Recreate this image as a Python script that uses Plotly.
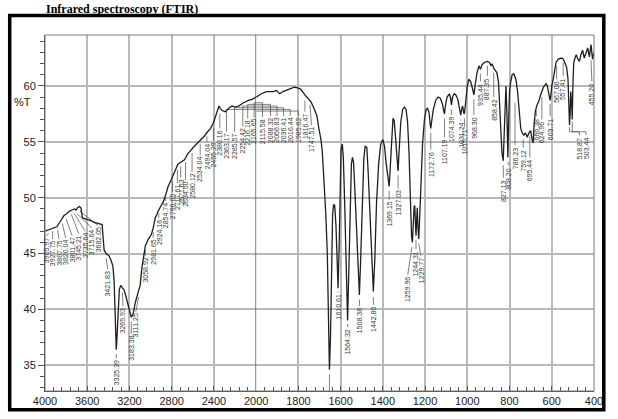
import plotly.graph_objects as go

# ---------------- spectrum data (wavenumber cm-1, %T) ----------------
wn_hi = [4000, 3975, 3953, 3920, 3888, 3860, 3841, 3820, 3804, 3785, 3767, 3745, 3720, 3705, 3692,
         3674, 3660, 3655, 3646, 3620, 3580, 3530, 3487, 3459, 3450, 3440, 3420, 3394, 3375, 3357,
         3345, 3338, 3330, 3325, 3318, 3310, 3296, 3284, 3276, 3266, 3254, 3240, 3226, 3210, 3193,
         3183, 3170, 3161, 3145, 3133, 3114, 3098, 3083, 3068, 3049, 3021, 2993, 2975, 2956, 2940,
         2928, 2900, 2881, 2862, 2834, 2810, 2788, 2765, 2741, 2710, 2679, 2650, 2617, 2585, 2555,
         2520, 2492, 2460, 2431, 2405, 2384, 2365, 2352, 2340, 2322, 2291, 2260, 2228, 2200, 2166,
         2120, 2073, 2040, 2000]
t_hi = [47.0, 47.1, 47.2, 47.3, 47.4, 47.8, 48.1, 48.4, 48.5, 48.7, 48.8, 48.9, 49.0, 48.9, 49.1,
        49.2, 49.1, 48.8, 48.2, 48.1, 48.0, 47.8, 47.7, 47.6, 46.5, 45.3, 45.0, 44.8, 44.4, 43.9,
        42.5, 39.6, 37.0, 36.4, 37.5, 39.6, 41.8, 42.1, 42.1, 41.9, 41.8, 41.4, 40.9, 40.3, 39.6,
        39.3, 39.5, 39.8, 40.6, 41.0, 41.5, 42.2, 43.7, 44.8, 45.7, 46.3, 46.7, 47.3, 48.2, 48.5,
        48.8, 49.3, 49.6, 50.1, 51.0, 51.5, 52.0, 52.5, 53.0, 53.2, 53.4, 53.9, 54.3, 54.6, 54.9,
        55.2, 55.5, 55.9, 56.2, 56.7, 57.3, 57.9, 58.2, 58.0, 57.8, 57.7, 58.0, 58.2, 58.1, 58.2,
        58.5, 58.7, 58.8, 59.0]

wn_lo = [2000, 1975, 1951, 1920, 1904, 1889, 1873, 1842, 1819, 1800, 1788, 1765, 1741, 1726, 1712,
         1703, 1694, 1687, 1679, 1670, 1663, 1658, 1653, 1648, 1643, 1638, 1633, 1628, 1622, 1616,
         1612, 1607, 1602, 1598, 1592, 1587, 1580, 1572, 1567, 1561, 1555, 1549, 1544, 1539, 1532,
         1524, 1516, 1511, 1505, 1498, 1490, 1484, 1476, 1470, 1462, 1453, 1445, 1438, 1430, 1420,
         1410, 1400, 1392, 1384, 1376, 1370, 1364, 1358, 1352, 1346, 1340, 1334, 1328, 1322, 1315,
         1306, 1298, 1290, 1283, 1276, 1270, 1264, 1260, 1256, 1252, 1249, 1246, 1243, 1240, 1237,
         1234, 1230, 1226, 1220, 1212, 1203, 1195, 1188, 1181, 1176, 1173, 1169, 1162, 1150, 1138,
         1128, 1118, 1112, 1108, 1104, 1096, 1085, 1079, 1075, 1070, 1062, 1054, 1045, 1036, 1031,
         1026, 1022, 1017, 1014, 1008, 1000, 992, 984, 976, 969, 962, 954, 945, 938, 930,
         920, 906, 895, 887, 883, 875, 866, 860, 852, 845, 836, 830, 826, 821, 817,
         813, 808, 804, 800, 795, 788, 780, 770, 762, 754, 747, 740, 732, 724, 716,
         708, 700, 693, 688, 684, 678, 670, 662, 651, 639, 627, 621, 616, 612, 608,
         604, 600, 593, 586, 580, 569, 554, 545, 538, 530, 523, 519, 516, 513, 510,
         506, 503, 500, 496, 490, 484, 476, 469, 462, 454, 446, 438, 430, 422, 414,
         407, 400]
t_lo = [59.0, 59.3, 59.5, 59.5, 59.6, 59.3, 59.5, 59.7, 59.9, 59.8, 59.7, 59.1, 58.6, 58.0, 57.3,
        56.2, 55.3, 54.2, 51.8, 48.5, 45.0, 39.5, 34.6, 37.5, 44.0, 48.5, 49.4, 49.3, 47.5, 43.0,
        41.9, 45.5, 51.0, 54.3, 54.8, 53.5, 49.0, 43.0, 39.0, 43.5, 49.5, 53.0, 53.6, 53.2, 50.5,
        46.5, 42.5, 41.3, 44.5, 49.5, 53.5, 54.6, 54.5, 52.5, 48.5, 44.0, 41.6, 44.5, 49.5, 53.0,
        54.8, 55.2, 54.6, 53.0, 51.5, 51.0, 53.0, 55.8, 57.1, 56.9, 55.5, 53.5, 52.4, 54.5, 56.8,
        57.9, 58.1, 57.9, 56.8, 54.0, 50.0, 46.5, 46.0, 47.8, 49.2, 49.3, 47.5, 46.6, 48.0, 49.1,
        47.5, 46.3, 48.0, 51.5, 54.8, 57.0, 57.9, 58.0, 57.6, 56.6, 56.2, 56.8, 57.8, 58.7, 59.0,
        58.9, 58.4, 57.8, 57.5, 58.2, 59.0, 59.3, 58.9, 58.3, 59.0, 59.3, 59.2, 58.8, 57.9, 57.4,
        58.0, 58.2, 57.6, 57.5, 58.5, 60.0, 60.6, 60.4, 59.8, 59.2, 60.2, 61.2, 61.8, 61.5, 61.9,
        62.1, 62.2, 62.1, 61.8, 62.0, 61.6, 61.4, 61.2, 60.3, 57.5, 54.0, 53.3, 55.5, 59.5, 60.0,
        58.0, 53.6, 57.0, 59.5, 60.3, 61.0, 61.1, 60.6, 59.5, 57.5, 56.2, 55.8, 55.6, 55.8, 55.4,
        55.8, 56.0, 55.2, 54.9, 56.5, 57.7, 58.3, 58.6, 59.3, 59.9, 60.2, 60.0, 59.5, 59.0, 58.7,
        59.2, 60.0, 60.6, 61.4, 62.1, 62.4, 62.5, 62.4, 62.1, 61.7, 60.6, 59.0, 56.5, 57.5, 59.5,
        58.5, 57.0, 60.0, 62.1, 62.5, 62.8, 62.4, 62.2, 62.8, 63.2, 62.5, 63.0, 63.4, 62.6, 63.7,
        62.4, 63.0]

# ---------------- peak labels ----------------
# left part (4000-2000): text, label x, label top, leader tip (x, y), leader bend level (None = straight)
lab_hi_text = ["3965.97", "3927.75", "3867.75", "3820.04", "3801.47", "3745.21", "3735.64", "3715.64",
               "3682.05", "3421.83", "3325.39", "3265.93", "3183.38", "3111.25", "3058.92", "2981.65",
               "2924.16", "2854.74", "2796.65", "2717.61", "2671.63", "2634.50", "2580.12", "2534.04",
               "2494.04", "2455.29", "2380.16", "2363.17", "2285.57", "2254.42", "2216.18", "2165.65"]
lab_hi_wn = [3991, 3928, 3867, 3805, 3743, 3681, 3619, 3557, 3496, 3405, 3325, 3262, 3183, 3140, 3050,
             2975, 2922, 2857, 2792, 2746, 2715, 2669, 2607, 2530, 2467, 2405, 2344, 2281, 2204, 2127,
             2080, 2019]
lab_hi_top = [46.6, 46.3, 46.3, 46.4, 46.6, 46.8, 47.0, 47.3, 47.5, 43.6, 35.6, 40.3, 37.8, 39.8, 44.8,
              46.4, 48.2, 49.7, 50.5, 51.3, 51.8, 51.6, 52.3, 53.8, 55.0, 55.1, 56.2, 55.9, 55.9, 56.4,
              57.1, 57.2]
lab_hi_tip_wn = [3965, 3928, 3880, 3835, 3800, 3750, 3725, 3700, 3670, 3421, 3325, 3266, 3183, 3114, 3050,
                 2975, 2922, 2857, 2792, 2746, 2715, 2669, 2607, 2530, 2467, 2405, 2344, 2000, 2000, 2000,
                 2000, 2000]
lab_hi_tip_t = [46.8, 47.0, 47.1, 47.7, 48.1, 48.5, 48.6, 48.6, 48.8, 44.6, 36.0, 41.5, 38.9, 41.1, 45.3,
                46.9, 48.6, 50.0, 51.5, 52.5, 52.8, 53.2, 54.0, 54.8, 55.5, 56.3, 57.5, 57.9, 58.05, 58.2,
                58.35, 58.5]
lab_hi_bend = [None] * 27 + [57.9, 58.05, 58.2, 58.35, 58.5]

# right part (2000-400)
lab_lo_text = ["2115.58", "2088.32", "2066.83", "2036.41", "2016.44", "1985.02", "1816.47", "1747.51",
               "1610.61", "1564.32", "1508.38", "1442.80", "1369.15", "1327.03", "1259.96", "1244.31",
               "1229.77", "1172.76", "1107.19", "1074.39", "1031.24", "1015.71", "968.30", "935.44",
               "887.35", "858.42", "827.13", "808.20", "786.23", "759.12", "695.44", "666.38",
               "624.96", "603.71", "567.06", "557.41", "518.87", "503.44", "455.20"]
lab_lo_wn = [1970, 1932, 1901, 1870, 1839, 1800, 1769, 1738, 1611, 1566, 1510, 1444, 1370, 1328, 1282,
             1243, 1220, 1173, 1108, 1075, 1031, 1012, 969, 938, 905, 875, 829, 805, 774, 735,
             704, 673, 647, 608, 577, 546, 469, 438, 410]
lab_lo_top = [57.2, 57.3, 57.3, 57.3, 57.3, 57.3, 57.7, 56.5, 41.5, 38.4, 40.3, 40.4, 49.8, 50.8, 43.1,
              45.4, 44.8, 54.3, 55.4, 57.4, 56.9, 56.3, 57.4, 60.4, 60.9, 59.0, 51.8, 52.9, 54.7, 54.5,
              53.6, 57.3, 57.0, 57.3, 60.6, 60.9, 55.6, 55.6, 60.4]
lab_lo_tip_wn = [2000, 2000, 2000, 2000, 2000, 2000, 1769, 1745, 1611, 1567, 1511, 1445, 1370, 1328, 1262,
                 1243, 1230, 1173, 1108, 1075, 1031, 1014, 969, 938, 905, 875, 830, 808, 774, 735,
                 704, 673, 647, 608, 577, 546, 516, 503, 414]
lab_lo_tip_t = [58.5, 58.35, 58.2, 58.05, 57.9, 57.75, 58.7, 58.3, 41.6, 38.7, 40.9, 41.1, 50.6, 52.0, 45.6,
                46.2, 45.9, 55.8, 57.1, 57.9, 57.0, 57.1, 58.8, 61.1, 61.8, 61.2, 52.9, 53.2, 58.5, 55.2,
                55.5, 57.8, 59.0, 58.4, 61.8, 62.1, 56.3, 56.8, 62.3]
lab_lo_bend = [58.5, 58.35, 58.2, 58.05, 57.9, 57.75] + [None] * 30 + [55.9, 55.9, None]

x_hi_ticks = [4000, 3600, 3200, 2800, 2400, 2000]
x_lo_ticks = [1800, 1600, 1400, 1200, 1000, 800, 600, 400]
y_ticks = [35, 40, 45, 50, 55, 60]

# ---------------- figure ----------------
W, H = 618, 419
L, R, T, B = 45, 13, 35, 21
PW, PH = W - L - R, H - T - B


def px(xp):
    return (xp - L) / PW


def py(yp):
    return (H - B - yp) / PH


LINE = "#1e1e1e"
GRID = "#b9b9b9"
LABC = "#3a3a3a"
fig = go.Figure()


def leaders(tip_x, tip_y, lab_x, lab_y, bend):
    xx, yy = [], []
    for a, b, c, d, k in zip(tip_x, tip_y, lab_x, lab_y, bend):
        if k is None:
            xx += [a, c, None]
            yy += [b, d, None]
        else:
            xx += [a, a, c, c, None]
            yy += [b, k, k, d, None]
    return xx, yy


lx, ly = leaders(lab_hi_tip_wn, lab_hi_tip_t, lab_hi_wn, lab_hi_top, lab_hi_bend)
fig.add_trace(go.Scatter(x=lx, y=ly, mode="lines", line=dict(color="#4a4a4a", width=0.7),
                         hoverinfo="skip", xaxis="x", yaxis="y"))
lx, ly = leaders(lab_lo_tip_wn + [1653], lab_lo_tip_t + [34.2], lab_lo_wn + [1653],
                 lab_lo_top + [32.0], lab_lo_bend + [None])
fig.add_trace(go.Scatter(x=lx, y=ly, mode="lines", line=dict(color="#4a4a4a", width=0.7),
                         hoverinfo="skip", xaxis="x2", yaxis="y"))

fig.add_trace(go.Scatter(x=wn_hi, y=t_hi, mode="lines", line=dict(color=LINE, width=1.3),
                         xaxis="x", yaxis="y"))
fig.add_trace(go.Scatter(x=wn_lo, y=t_lo, mode="lines", line=dict(color=LINE, width=1.3),
                         xaxis="x2", yaxis="y"))

labfont = dict(size=7, color=LABC, family="Liberation Sans, Arial")
annotations = []
for t, x, y in zip(lab_hi_text, lab_hi_wn, lab_hi_top):
    annotations.append(dict(x=x, y=y, xref="x", yref="y", text=t, showarrow=False, textangle=-90,
                            xanchor="center", yanchor="top", font=labfont))
for t, x, y in zip(lab_lo_text, lab_lo_wn, lab_lo_top):
    annotations.append(dict(x=x, y=y, xref="x2", yref="y", text=t, showarrow=False, textangle=-90,
                            xanchor="center", yanchor="top", font=labfont))
annotations.append(dict(x=px(22), y=py(103), xref="paper", yref="paper", text="%T", showarrow=False,
                        xanchor="center", yanchor="middle",
                        font=dict(size=11, color="#222", family="Liberation Sans, Arial")))
annotations.append(dict(x=px(45), y=py(0), xref="paper", yref="paper",
                        text="<b>Infrared spectroscopy (FTIR)</b>", showarrow=False,
                        xanchor="left", yanchor="top", borderpad=0,
                        font=dict(size=12, color="#000", family="Liberation Serif, Times New Roman")))

shapes = [
    dict(type="rect", xref="paper", yref="paper", x0=0, x1=1, y0=0, y1=1,
         line=dict(color="#7a7a7a", width=1)),
    dict(type="line", xref="x", yref="paper", x0=2000, x1=2000, y0=0, y1=1,
         line=dict(color="#555", width=1.5)),
    dict(type="rect", xref="paper", yref="paper", x0=px(9), x1=px(615), y0=py(417), y1=py(15),
         line=dict(color="#000", width=3.5)),
]

tickfont = dict(size=11, color="#222", family="Liberation Sans, Arial")
fig.update_layout(
    width=W, height=H, margin=dict(l=L, r=R, t=T, b=B),
    paper_bgcolor="white", plot_bgcolor="white", showlegend=False,
    annotations=annotations, shapes=shapes,
    xaxis=dict(domain=[0, 5 / 13], range=[4000, 2000], tickmode="array", tickvals=x_hi_ticks,
               ticktext=[str(v) for v in x_hi_ticks], showgrid=True, gridcolor=GRID, gridwidth=1.5,
               ticks="inside", ticklen=5, tickcolor="#555", showline=True, linecolor="#444",
               zeroline=False, tickfont=tickfont, ticklabelstandoff=0,
               minor=dict(dtick=80, tick0=4000, ticks="inside", ticklen=4, tickcolor="#555", showgrid=False)),
    xaxis2=dict(domain=[5 / 13, 1], range=[2000, 400], tickmode="array", tickvals=x_lo_ticks,
                ticktext=[str(v) for v in x_lo_ticks], showgrid=True, gridcolor=GRID, gridwidth=1.5,
                ticks="inside", ticklen=5, tickcolor="#555", showline=True, linecolor="#444",
                zeroline=False, tickfont=tickfont, anchor="y", ticklabelstandoff=0,
                minor=dict(dtick=40, tick0=2000, ticks="inside", ticklen=4, tickcolor="#555", showgrid=False)),
    yaxis=dict(range=[32.7, 64.56], tickmode="array", tickvals=y_ticks,
               ticktext=[str(v) for v in y_ticks], showgrid=True, gridcolor=GRID, gridwidth=1.5,
               ticks="outside", ticklen=6, tickcolor="#555", showline=True, linecolor="#444",
               zeroline=False, tickfont=tickfont,
               minor=dict(dtick=1, tick0=35, ticks="outside", ticklen=4, tickcolor="#555", showgrid=False)),
)

fig.write_html("out.html")
